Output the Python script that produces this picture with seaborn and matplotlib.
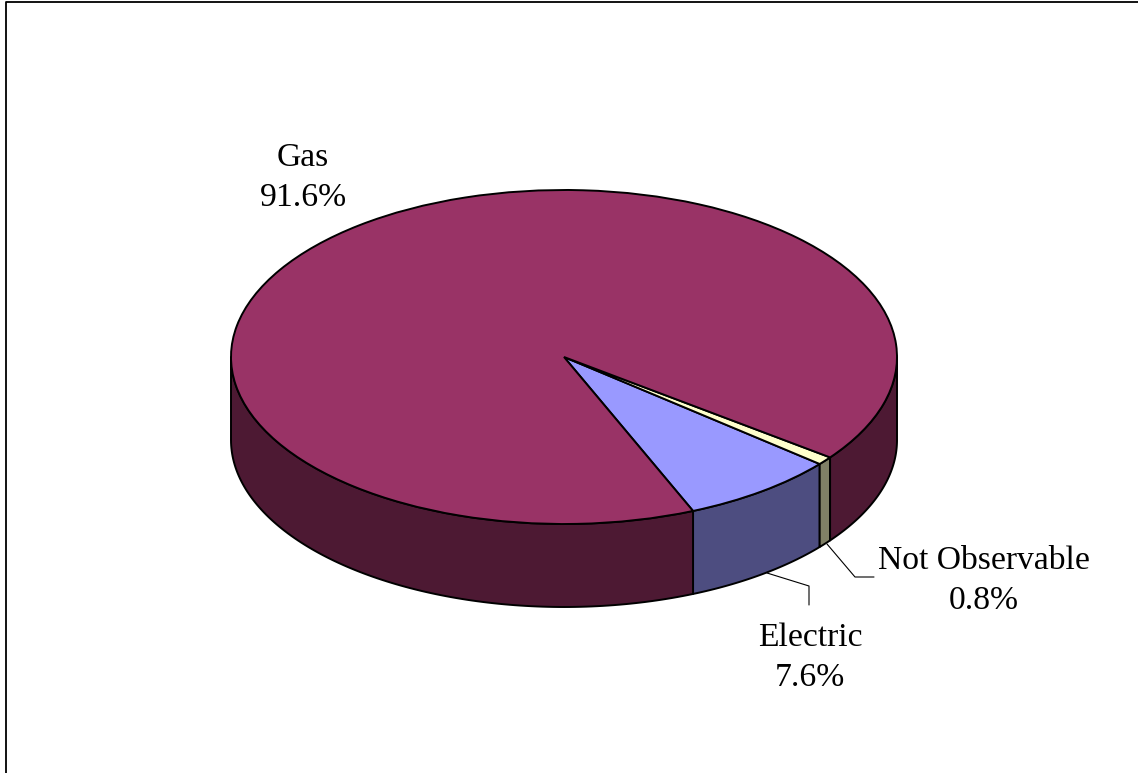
import numpy as np
import matplotlib
matplotlib.use("Agg")
import matplotlib.pyplot as plt
from matplotlib.lines import Line2D
import seaborn as sns

categories = ["Electric", "Not Observable", "Gas"]
values = [7.6, 0.8, 91.6]
top_colors = ["#9999FF", "#FFFFCC", "#993366"]
side_colors = ["#4D4D80", "#808066", "#4D1933"]

W, H = 1138, 773
CX, CY, RX, RY, DEPTH = 564, 357, 333, 167, 83
START = -67.2

sns.set_theme(style="white")
plt.rcParams["font.family"] = ["Liberation Serif", "DejaVu Serif"]

fig = plt.figure(figsize=(W / 100, H / 100), dpi=100, facecolor="white")
ax = fig.add_axes([0, 0, 1, 1])

# Top face: a real pie, squashed by the axis scales into an ellipse
ax.pie(values, colors=sns.color_palette(top_colors), startangle=START, counterclock=True,
       wedgeprops=dict(edgecolor="black", linewidth=1.4, zorder=3))
ax.set_aspect("auto")
ax.set_xlim(-CX / RX, (W - CX) / RX)
ax.set_ylim(-(H - CY) / RY, CY / RY)
ax.axis("off")

# Side wall of each slice, from the same values
d = DEPTH / RY
edges = START + np.concatenate([[0], np.cumsum(values)]) * 3.6
for a0, a1, col in zip(edges[:-1], edges[1:], side_colors):
    # the front half of the rim is where the angle lies in (-180, 0), modulo 360
    for k in (-360, 0):
        lo, hi = max(a0 + k, -180), min(a1 + k, 0)
        if hi <= lo:
            continue
        t = np.radians(np.linspace(lo, hi, 120))
        x, y = np.cos(t), np.sin(t)
        ax.fill(np.r_[x, x[::-1]], np.r_[y, y[::-1] - d], facecolor=col,
                edgecolor="black", linewidth=1.4, zorder=2, joinstyle="round")

def px(x, y):
    return ((x - CX) / RX, (CY - y) / RY)

labels = [f"{c}\n{v:.1f}%" for c, v in zip(categories, values)]
label_pos = [(810, 658), (984, 581), (303, 178)]
for s, (x, y) in zip(labels, label_pos):
    ax.text(*px(x, y), s, ha="center", va="center", fontsize=24.2, color="black",
            linespacing=1.39, zorder=5)

# Leader lines
for pts in ([(767, 573), (809, 586), (809, 605)], [(827, 544), (855, 577), (874, 577)]):
    xs, ys = zip(*[px(*p) for p in pts])
    ax.plot(xs, ys, color="black", lw=0.8, zorder=1, clip_on=False)

# Frame (left and top edges only are visible in the picture)
fig.add_artist(Line2D([5.5 / W, 5.5 / W, 1], [0, 1 - 1.5 / H, 1 - 1.5 / H],
                      transform=fig.transFigure, color="black", lw=1.3))

fig.savefig("out.png", dpi=100, facecolor="white")
